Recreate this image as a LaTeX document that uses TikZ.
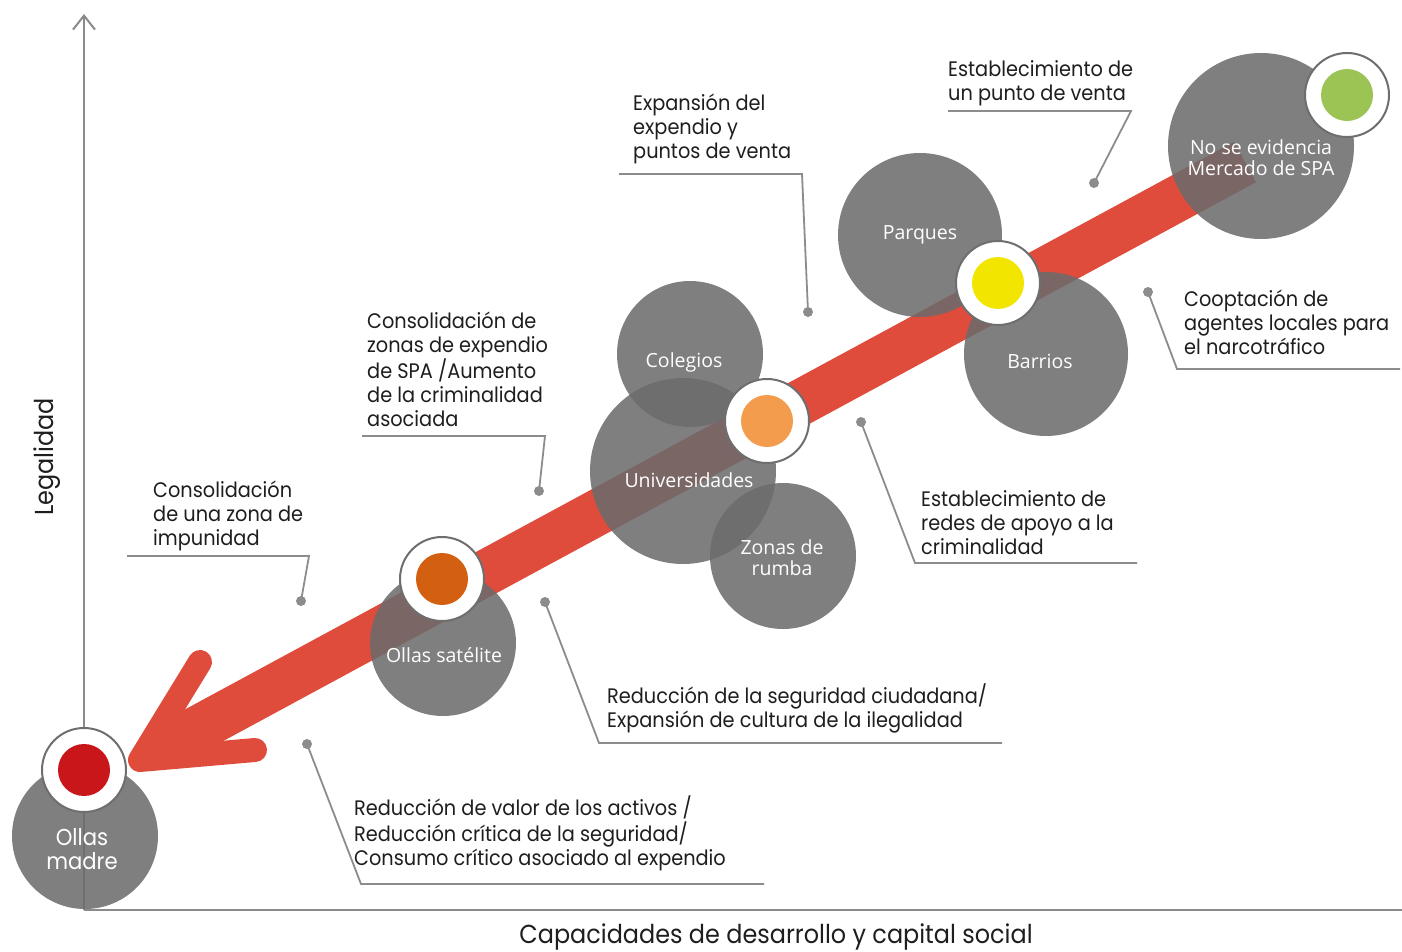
\documentclass[tikz,border=0pt]{standalone}
\usepackage{fontspec}
\newfontfamily\lblfont[FakeStretch=0.92]{Poppins}
\newfontfamily\circfont{Open Sans}
\usetikzlibrary{arrows.meta}
\definecolor{axisgray}{HTML}{8A8A8A}
\definecolor{leadgray}{HTML}{8C8C8C}
\definecolor{blobgray}{HTML}{6C6C6C}
\definecolor{ringgray}{HTML}{6E6E6E}
\definecolor{bandred}{HTML}{DF4C3C}
\definecolor{dotred}{HTML}{C8161A}
\definecolor{dotorangedark}{HTML}{D35F10}
\definecolor{dotorange}{HTML}{F39C4E}
\definecolor{dotyellow}{HTML}{F2E600}
\definecolor{dotgreen}{HTML}{9BC455}
\definecolor{lbltext}{HTML}{1E1E1E}
\newcommand\lbllines[1]{\begin{tabular}[t]{@{}l@{}}#1\end{tabular}}
\tikzset{
  axisline/.style={draw=axisgray, line width=2pt},
  axislbl/.style={inner sep=0pt, text=lbltext, font=\lblfont\fontsize{26}{30}\selectfont},
  leader/.style={draw=leadgray, line width=1.8pt},
  leaddot/.style={circle, fill=leadgray, inner sep=0pt, minimum size=10pt},
  blob/.style={circle, fill=blobgray, fill opacity=0.87, draw=none, inner sep=0pt},
  blobtxt/.style={inner sep=0pt, text=white, align=center, font=\circfont\fontsize{19.5}{21}\selectfont},
  ring/.style={circle, fill=white, draw=ringgray, line width=2pt, minimum size=84pt, inner sep=0pt},
  core/.style={circle, draw=none, minimum size=52pt, inner sep=0pt},
  lbl/.style={anchor=base west, inner sep=0pt, text=lbltext, font=\lblfont\fontsize{21}{24}\selectfont}
}
\begin{document}
\begin{tikzpicture}[x=1pt,y=-1pt]
\useasboundingbox (0,0) rectangle (1402,952);
% axes
\coordinate (origin) at (84,910);
\coordinate (ytop) at (84,14);
\coordinate (xend) at (1402,910);
\draw[axisline, -{Straight Barb[length=14pt,width=22pt]}] (origin) -- (ytop);
\draw[axisline] (origin) -- (xend);
\node[axislbl, rotate=90] (ylabel) at (47,457) {Legalidad};
\node[axislbl] (xlabel) at (776,937) {Capacidades de desarrollo y capital social};
% leader lines
\coordinate (u1a) at (948,111);  \coordinate (u1b) at (1131,111);
\coordinate (u2a) at (619,174);  \coordinate (u2b) at (802,174);
\coordinate (u3a) at (1400,369); \coordinate (u3b) at (1177,369);
\coordinate (u4a) at (362,436);  \coordinate (u4b) at (545,436);
\coordinate (u5a) at (1137,563); \coordinate (u5b) at (915,563);
\coordinate (u6a) at (127,556);  \coordinate (u6b) at (309,556);
\coordinate (u7a) at (1002,743); \coordinate (u7b) at (599,743);
\coordinate (u8a) at (764,884);  \coordinate (u8b) at (361,884);
\node[leaddot] (d1) at (1094,183) {};
\node[leaddot] (d2) at (808,312) {};
\node[leaddot] (d3) at (1148,292) {};
\node[leaddot] (d4) at (539,491) {};
\node[leaddot] (d5) at (861,422) {};
\node[leaddot] (d6) at (301,601) {};
\node[leaddot] (d7) at (545,602) {};
\node[leaddot] (d8) at (307,744) {};
\draw[leader] (u1a) -- (u1b) -- (d1.center);
\draw[leader] (u2a) -- (u2b) -- (d2.center);
\draw[leader] (u3a) -- (u3b) -- (d3.center);
\draw[leader] (u4a) -- (u4b) -- (d4.center);
\draw[leader] (u5a) -- (u5b) -- (d5.center);
\draw[leader] (u6a) -- (u6b) -- (d6.center);
\draw[leader] (u7a) -- (u7b) -- (d7.center);
\draw[leader] (u8a) -- (u8b) -- (d8.center);
% red arrow
\coordinate (shaftstart) at (1245,162);
\coordinate (shaftend) at (192.7,731.4);
\coordinate (tip) at (140,760);
\coordinate (barbup) at (200,662);
\coordinate (barblow) at (255,750);
\coordinate (notchup) at (185,709.5);
\coordinate (notchlow) at (224,740.5);
\draw[bandred, line width=46pt] (shaftstart) -- (shaftend);
\fill[bandred] (tip) -- (notchup) -- (notchlow) -- cycle;
\draw[bandred, line width=24pt, line cap=round, line join=round] (barbup) -- (tip) -- (barblow);
% grey circles
\node[blob, minimum size=146pt] (b-madre) at (85,836) {};
\node[blob, minimum size=146pt] (b-satelite) at (443,643) {};
\node[blob, minimum size=186pt] (b-univ) at (683,471) {};
\node[blob, minimum size=146pt] (b-colegios) at (690,354) {};
\node[blob, minimum size=146pt] (b-rumba) at (783,556) {};
\node[blob, minimum size=164pt] (b-parques) at (920,235) {};
\node[blob, minimum size=164pt] (b-barrios) at (1046,354) {};
\node[blob, minimum size=186pt] (b-noevid) at (1261,146) {};
% rings
\node[ring] (r-madre) at (84,770) {};
\node[core, fill=dotred] (c-madre) at (84,770) {};
\node[ring] (r-satelite) at (442,579) {};
\node[core, fill=dotorangedark] (c-satelite) at (442,579) {};
\node[ring] (r-univ) at (767,421) {};
\node[core, fill=dotorange] (c-univ) at (767,421) {};
\node[ring] (r-parques) at (998,283) {};
\node[core, fill=dotyellow] (c-parques) at (998,283) {};
\node[ring] (r-noevid) at (1347,95) {};
\node[core, fill=dotgreen] (c-noevid) at (1347,95) {};
% circle texts
\node[blobtxt] (t-parques) at (920,235) {Parques};
\node[blobtxt] (t-barrios) at (1040,361) {Barrios};
\node[blobtxt] (t-colegios) at (684,362) {Colegios};
\node[blobtxt] (t-univ) at (689,480) {Universidades};
\node[blobtxt] (t-rumba) at (782,558) {Zonas de\\rumba};
\node[blobtxt] (t-noevid) at (1261,158) {No se evidencia\\Mercado de SPA};
\node[blobtxt] (t-satelite) at (444,655) {Ollas satélite};
\node[blobtxt, font=\lblfont\fontsize{23}{24}\selectfont] (t-madre) at (82,849) {Ollas\\madre};
% labels
\node[lbl] (l-punto) at (948,77) {\lbllines{Establecimiento de\\un punto de venta}};
\node[lbl] (l-expansion) at (633,111) {\lbllines{Expansión del\\expendio y\\puntos de venta}};
\node[lbl] (l-cooptacion) at (1184,306) {\lbllines{Cooptación de\\agentes locales para\\el narcotráfico}};
\node[lbl] (l-consol) at (367,328) {\lbllines{Consolidación de\\zonas de expendio\\de SPA /Aumento\\de la criminalidad\\asociada}};
\node[lbl] (l-redes) at (921,506) {\lbllines{Establecimiento de\\redes de apoyo a la\\criminalidad}};
\node[lbl] (l-impunidad) at (153,497) {\lbllines{Consolidación\\de una zona de\\impunidad}};
\node[lbl] (l-seguridad) at (607,703) {\lbllines{Reducción de la seguridad ciudadana/\\Expansión de cultura de la ilegalidad}};
\node[lbl] (l-activos) at (354,815) {\lbllines{Reducción de valor de los activos /\\Reducción crítica de la seguridad/\\Consumo crítico asociado al expendio}};
\end{tikzpicture}
\end{document}
